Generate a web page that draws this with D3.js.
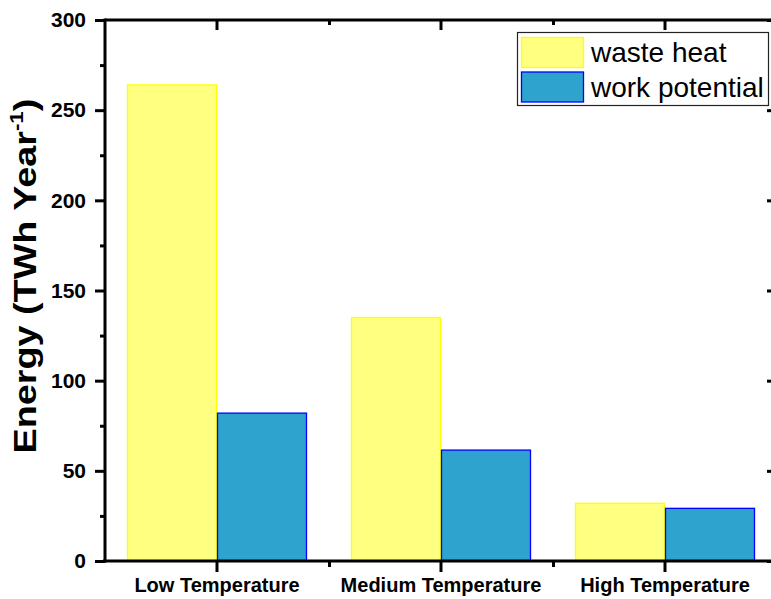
<!DOCTYPE html>
<html><head><meta charset="utf-8">
<script src="https://cdn.jsdelivr.net/npm/d3@7/dist/d3.min.js"></script>
<style>body{margin:0;background:#fff}svg{display:block}text{font-family:Arial,"Liberation Sans",sans-serif}</style>
</head><body><svg id="c" width="771" height="599"></svg>
<script>
const categories = ["Low Temperature", "Medium Temperature", "High Temperature"];
const series = ["waste heat", "work potential"];
const wasteHeat = [264, 135, 32];
const workPotential = [82, 61.5, 29.2];
const yTicks = [0, 50, 100, 150, 200, 250, 300];
const yMinorTicks = [25, 75, 125, 175, 225, 275];
const colors = {fill: ["#FFFF80", "#2EA3CD"], stroke: ["#FFFF00", "#0000FF"]};

const svg = d3.select("#c");
const L = 105, R = 777, T = 20, B = 561;
const p = 44/224;
const x0 = d3.scaleBand().domain(categories).range([L, R]).paddingInner(p).paddingOuter(p/2);
const x1 = d3.scaleBand().domain(series).range([0, x0.bandwidth()]);
const xIdx = d3.scaleLinear().domain([-0.5, categories.length - 0.5]).range([L, R]);
const y = d3.scaleLinear().domain([0, 300]).range([B, T]);

const data = categories.map((c, i) => ({c, vals: [wasteHeat[i], workPotential[i]]}));

// bars
const g = svg.append("g");
data.forEach(d => {
  d.vals.forEach((v, j) => {
    g.append("rect")
      .attr("x", x0(d.c) + x1(series[j]) + 0.5)
      .attr("y", y(v))
      .attr("width", x1.bandwidth() - 1)
      .attr("height", y(0) - y(v))
      .attr("fill", colors.fill[j])
      .attr("stroke", colors.stroke[j])
      .attr("stroke-width", 1.3);
  });
});

function style(sel, w) {
  sel.selectAll("path.domain").remove();
  sel.selectAll(".tick line").attr("stroke", "#000").attr("stroke-width", w || 3);
}
// left axis
const ga = svg.append("g").attr("transform", `translate(${L},0)`)
  .call(d3.axisLeft(y).tickValues(yTicks).tickSize(10).tickPadding(8).tickFormat(d3.format("d")));
style(ga);
ga.selectAll("text").attr("font-size", 21).attr("font-weight", "bold").attr("fill", "#000").attr("dx", "-1");
const gam = svg.append("g").attr("transform", `translate(${L},0)`)
  .call(d3.axisLeft(y).tickValues(yMinorTicks).tickSize(5).tickFormat(""));
style(gam);
// right axis (inward)
const gr = svg.append("g").attr("transform", `translate(${R},0)`)
  .call(d3.axisLeft(y).tickValues(yTicks).tickSize(10).tickFormat(""));
style(gr);
// bottom axis
const gb = svg.append("g").attr("transform", `translate(0,${B})`)
  .call(d3.axisBottom(x0).tickSize(11).tickSizeOuter(0).tickPadding(6));
style(gb);
gb.selectAll("text").attr("font-size", 20).attr("font-weight", "bold").attr("fill", "#000");
const gbm = svg.append("g").attr("transform", `translate(0,${B})`)
  .call(d3.axisBottom(xIdx).tickValues([0.5, 1.5]).tickSize(6).tickFormat(""));
style(gbm);
// top axis (inward)
const gt = svg.append("g").attr("transform", `translate(0,${T})`)
  .call(d3.axisBottom(x0).tickSize(10).tickSizeOuter(0).tickFormat(""));
style(gt);
const gtm = svg.append("g").attr("transform", `translate(0,${T})`)
  .call(d3.axisBottom(xIdx).tickValues([0.5, 1.5]).tickSize(5).tickFormat(""));
style(gtm);

// spines
svg.append("line").attr("x1", L).attr("x2", L).attr("y1", T - 1.5).attr("y2", B + 1.5).attr("stroke", "#000").attr("stroke-width", 3);
svg.append("line").attr("x1", L - 2).attr("x2", R).attr("y1", B).attr("y2", B).attr("stroke", "#000").attr("stroke-width", 3);
svg.append("line").attr("x1", L).attr("x2", R).attr("y1", T).attr("y2", T).attr("stroke", "#000").attr("stroke-width", 3);

// y label
const yl = svg.append("text").attr("transform", "translate(36,276) rotate(-90) scale(1.18,1)")
  .attr("text-anchor", "middle").attr("font-size", 32).attr("font-weight", "bold").attr("fill", "#000");
yl.append("tspan").text("Energy (TWh Year");
yl.append("tspan").text("-1").attr("font-size", 19).attr("dy", -13);
yl.append("tspan").text(")").attr("dy", 13);

// legend
const lg = svg.append("g");
lg.append("rect").attr("x", 517.5).attr("y", 32.5).attr("width", 251).attr("height", 73)
  .attr("fill", "#fff").attr("stroke", "#222").attr("stroke-width", 1.2);
series.forEach((s, j) => {
  lg.append("rect").attr("x", 521.5).attr("y", 37.5 + j * 34.5).attr("width", 62).attr("height", 30)
    .attr("fill", colors.fill[j]).attr("stroke", colors.stroke[j]).attr("stroke-width", 1.3);
  lg.append("text").attr("x", 591).attr("y", 62 + j * 35).attr("font-size", 28).attr("fill", "#000").text(s);
});
</script></body></html>
